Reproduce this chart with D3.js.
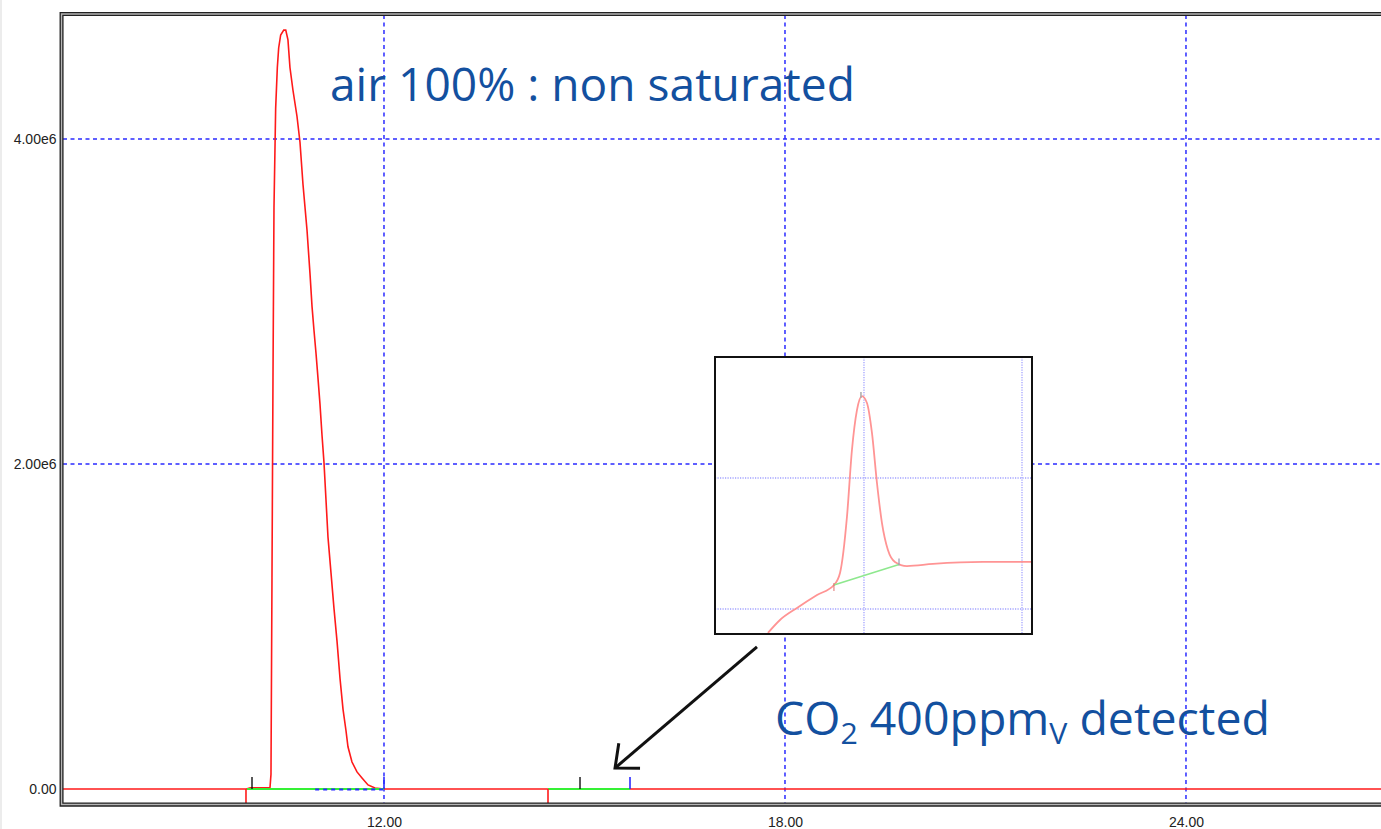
<!DOCTYPE html>
<html>
<head>
<meta charset="utf-8">
<script src="https://cdn.jsdelivr.net/npm/d3@7"></script>
<style>
  html, body { margin: 0; padding: 0; background: #fff; }
  svg { display: block; }
</style>
</head>
<body>
<div id="zone"></div>
<script>
"use strict";

// ----- données lues sur le chromatogramme -----
// trace principale : temps (min) et signal (coups)
var traceTemps = [7.197, 9.94, 10.0, 10.294, 10.309, 10.324, 10.339, 10.354, 10.379, 10.404, 10.424, 10.454,
  10.50, 10.53, 10.563, 10.593, 10.638, 10.698, 10.743, 10.788, 10.848, 10.893, 10.923, 10.953, 10.983,
  11.012, 11.042, 11.072, 11.102, 11.132, 11.162, 11.207, 11.252, 11.297, 11.342, 11.387, 11.431, 11.461,
  11.521, 11.596, 11.671, 11.761, 11.865, 12.0, 26.92];
var traceSignal = [0, 0, 0.008e6, 0.008e6, 0.09e6, 1.30e6, 2.53e6, 3.58e6, 4.19e6, 4.44e6, 4.56e6, 4.64e6,
  4.67e6, 4.67e6, 4.61e6, 4.44e6, 4.30e6, 4.14e6, 3.98e6, 3.72e6, 3.44e6, 3.17e6, 2.97e6, 2.82e6, 2.68e6,
  2.53e6, 2.37e6, 2.18e6, 2.01e6, 1.78e6, 1.55e6, 1.33e6, 1.11e6, 0.91e6, 0.68e6, 0.49e6, 0.36e6, 0.26e6,
  0.166e6, 0.105e6, 0.068e6, 0.025e6, 0.006e6, 0, 0];

// graduations
var xTicks = [12, 18, 24];
var xTickLabels = ["12.00", "18.00", "24.00"];
var yTicks = [0, 2e6, 4e6];
var yTickLabels = ["0.00", "2.00e6", "4.00e6"];

// intégration : début (trait rouge), ligne de base (vert), marqueurs
var debutsIntegration = [9.935, 14.454];
var ligneBaseDebut = [9.95, 14.454];
var ligneBaseFin = [12.0, 15.681];
var marquesNoires = [10.025, 14.933];
var marquesBleues = [12.0, 15.681];
var segmentPointille = [10.97, 12.0];

// encart : zoom sur le pic de CO2
var encartTemps = [14.206, 14.343, 14.537, 14.765, 14.958, 15.027, 15.106, 15.163, 15.220, 15.277, 15.334,
  15.391, 15.448, 15.505, 15.573, 15.653, 15.790, 16.086, 16.656, 17.214];
var encartSignal = [817, 916, 1008, 1107, 1183, 1275, 1702, 2214, 2519, 2626, 2573,
  2344, 1962, 1656, 1450, 1359, 1328, 1344, 1359, 1359];
var encartXTicks = [15.3, 17.1];
var encartYTicks = [1000, 2000];
var encartBaseTemps = [14.958, 15.699];
var encartBaseSignal = [1183, 1340];

// flèche : de (temps, signal) vers (temps, signal)
var flecheDepart = [17.581, 0.874e6];
var flecheArrivee = [15.457, 0.129e6];

(function() {

  var largeur = 1381;
  var hauteur = 829;
  var gauche = 63, haut = 15, droite = 1381, bas = 803;
  var bleuGrille = "#2b2bff";
  var couleurTexte = "#13509f";

  var svg = d3.select("#zone").append("svg")
    .attr("width", largeur)
    .attr("height", hauteur);

  var x = d3.scaleLinear().domain([7.197, 26.918]).range([gauche, droite]);
  var y = d3.scaleLinear().domain([-0.0862e6, 4.763e6]).range([bas, haut]);

  svg.append("defs").append("clipPath").attr("id", "clipCadre")
    .append("rect")
    .attr("x", gauche).attr("y", haut)
    .attr("width", droite - gauche).attr("height", bas - haut);

  // petit trait gris au bord gauche de la capture
  svg.append("line")
    .attr("x1", 1).attr("x2", 1).attr("y1", 0).attr("y2", hauteur)
    .attr("stroke", "#ececec").attr("stroke-width", 2);

  var zonePlot = svg.append("g").attr("clip-path", "url(#clipCadre)");

  // grille pointillée bleue
  zonePlot.selectAll(".grilleX").data(xTicks).enter().append("line")
    .attr("class", "grilleX")
    .attr("x1", function(d) { return x(d); }).attr("x2", function(d) { return x(d); })
    .attr("y1", haut).attr("y2", bas)
    .attr("stroke", bleuGrille).attr("stroke-width", 1.5)
    .attr("stroke-dasharray", "4,3.5");

  zonePlot.selectAll(".grilleY").data(yTicks.filter(function(d) { return d > 0; })).enter().append("line")
    .attr("class", "grilleY")
    .attr("x1", gauche).attr("x2", droite)
    .attr("y1", function(d) { return y(d); }).attr("y2", function(d) { return y(d); })
    .attr("stroke", bleuGrille).attr("stroke-width", 1.5)
    .attr("stroke-dasharray", "4,3.5");

  // trace
  var points = traceTemps.map(function(t, i) { return [t, traceSignal[i]]; });
  var ligne = d3.line()
    .x(function(d) { return x(d[0]); })
    .y(function(d) { return y(d[1]); });

  zonePlot.append("path")
    .datum(points)
    .attr("d", ligne)
    .attr("fill", "none")
    .attr("stroke", "#ff1a1a")
    .attr("stroke-width", 1.6);

  // lignes de base d'intégration
  zonePlot.selectAll(".base").data(ligneBaseDebut).enter().append("line")
    .attr("x1", function(d) { return x(d); })
    .attr("x2", function(d, i) { return x(ligneBaseFin[i]); })
    .attr("y1", y(0)).attr("y2", y(0))
    .attr("stroke", "#35f035").attr("stroke-width", 2);

  zonePlot.append("line")
    .attr("x1", x(segmentPointille[0])).attr("x2", x(segmentPointille[1]))
    .attr("y1", y(0) + 0.5).attr("y2", y(0) + 0.5)
    .attr("stroke", bleuGrille).attr("stroke-width", 2)
    .attr("stroke-dasharray", "4,4");

  zonePlot.selectAll(".debut").data(debutsIntegration).enter().append("line")
    .attr("x1", function(d) { return x(d); }).attr("x2", function(d) { return x(d); })
    .attr("y1", y(0)).attr("y2", bas)
    .attr("stroke", "#ff1a1a").attr("stroke-width", 1.6);

  zonePlot.selectAll(".marqueNoire").data(marquesNoires).enter().append("line")
    .attr("x1", function(d) { return x(d); }).attr("x2", function(d) { return x(d); })
    .attr("y1", y(0)).attr("y2", y(0) - 12)
    .attr("stroke", "#111").attr("stroke-width", 1.4);

  zonePlot.selectAll(".marqueBleue").data(marquesBleues).enter().append("line")
    .attr("x1", function(d) { return x(d); }).attr("x2", function(d) { return x(d); })
    .attr("y1", y(0)).attr("y2", y(0) - 12)
    .attr("stroke", bleuGrille).attr("stroke-width", 1.6);

  // axes (étiquettes seules, comme le logiciel)
  var axeY = d3.axisLeft(y).tickValues(yTicks)
    .tickFormat(function(d, i) { return yTickLabels[i]; })
    .tickSize(0).tickPadding(6);
  svg.append("g").attr("transform", "translate(" + (gauche - 0.5) + ",0)").call(axeY)
    .call(function(g) { g.select(".domain").remove(); })
    .selectAll("text")
    .attr("font-family", "Liberation Sans, Arial, sans-serif")
    .attr("font-size", 14).attr("fill", "#222");

  var axeX = d3.axisBottom(x).tickValues(xTicks)
    .tickFormat(function(d, i) { return xTickLabels[i]; })
    .tickSize(0).tickPadding(14);
  svg.append("g").attr("transform", "translate(0," + bas + ")").call(axeX)
    .call(function(g) { g.select(".domain").remove(); })
    .selectAll("text")
    .attr("font-family", "Liberation Sans, Arial, sans-serif")
    .attr("font-size", 14).attr("fill", "#222");

  // ----- encart -----
  var eg = 715, ed = 1032, eh = 357, eb = 634;
  var ex = d3.scaleLinear().domain([13.603, 17.214]).range([eg, ed]);
  var ey = d3.scaleLinear().domain([809, 2924]).range([eb, eh]);

  svg.append("clipPath").attr("id", "clipEncart")
    .append("rect").attr("x", eg).attr("y", eh).attr("width", ed - eg).attr("height", eb - eh);

  var encart = svg.append("g");
  encart.append("rect")
    .attr("x", eg).attr("y", eh).attr("width", ed - eg).attr("height", eb - eh)
    .attr("fill", "#fff");

  var encartContenu = encart.append("g").attr("clip-path", "url(#clipEncart)");

  encartContenu.selectAll(".egx").data(encartXTicks).enter().append("line")
    .attr("x1", function(d) { return ex(d); }).attr("x2", function(d) { return ex(d); })
    .attr("y1", eh).attr("y2", eb)
    .attr("stroke", "#a3a3ff").attr("stroke-width", 1.3).attr("stroke-dasharray", "1.2,1.3");
  encartContenu.selectAll(".egy").data(encartYTicks).enter().append("line")
    .attr("x1", eg).attr("x2", ed)
    .attr("y1", function(d) { return ey(d); }).attr("y2", function(d) { return ey(d); })
    .attr("stroke", "#a3a3ff").attr("stroke-width", 1.3).attr("stroke-dasharray", "1.2,1.3");

  var pointsEncart = encartTemps.map(function(t, i) { return [t, encartSignal[i]]; });
  encartContenu.append("path")
    .datum(pointsEncart)
    .attr("d", d3.line().curve(d3.curveMonotoneX)
      .x(function(d) { return ex(d[0]); })
      .y(function(d) { return ey(d[1]); }))
    .attr("fill", "none").attr("stroke", "#ff9494").attr("stroke-width", 1.8);

  encartContenu.append("line")
    .attr("x1", ex(encartBaseTemps[0])).attr("y1", ey(encartBaseSignal[0]))
    .attr("x2", ex(encartBaseTemps[1])).attr("y2", ey(encartBaseSignal[1]))
    .attr("stroke", "#8ee88e").attr("stroke-width", 1.6);

  encartContenu.append("line")
    .attr("x1", ex(encartBaseTemps[0])).attr("x2", ex(encartBaseTemps[0]))
    .attr("y1", ey(encartBaseSignal[0]) - 2).attr("y2", ey(encartBaseSignal[0]) + 6)
    .attr("stroke", "#e07070").attr("stroke-width", 1);
  encartContenu.append("line")
    .attr("x1", ex(encartBaseTemps[1])).attr("x2", ex(encartBaseTemps[1]))
    .attr("y1", ey(encartBaseSignal[1]) - 6).attr("y2", ey(encartBaseSignal[1]) + 1)
    .attr("stroke", "#9a9ab0").attr("stroke-width", 1.2);
  encartContenu.append("line")
    .attr("x1", ex(15.277) - 1).attr("x2", ex(15.277) - 1)
    .attr("y1", ey(2626) - 4).attr("y2", ey(2626) + 2)
    .attr("stroke", "#aaa").attr("stroke-width", 1.5);

  encart.append("rect")
    .attr("x", eg).attr("y", eh).attr("width", ed - eg).attr("height", eb - eh)
    .attr("fill", "none").attr("stroke", "#111").attr("stroke-width", 2);

  // ----- flèche -----
  var xa = x(flecheArrivee[0]), ya = y(flecheArrivee[1]);
  var xd = x(flecheDepart[0]), yd = y(flecheDepart[1]);
  var angle = Math.atan2(yd - ya, xd - xa);
  var longueurPointe = 25;
  var p1 = [xa + longueurPointe * Math.cos(angle - Math.PI / 4.4), ya + longueurPointe * Math.sin(angle - Math.PI / 4.4)];
  var p2 = [xa + longueurPointe * Math.cos(angle + Math.PI / 4.4), ya + longueurPointe * Math.sin(angle + Math.PI / 4.4)];
  svg.append("path")
    .attr("d", "M" + xd + "," + yd + "L" + xa + "," + ya)
    .attr("stroke", "#111").attr("stroke-width", 3).attr("fill", "none");
  svg.append("path")
    .attr("d", "M" + p1[0] + "," + p1[1] + "L" + xa + "," + ya + "L" + p2[0] + "," + p2[1])
    .attr("stroke", "#111").attr("stroke-width", 3).attr("fill", "none")
    .attr("stroke-linejoin", "miter");

  // ----- textes -----
  function ajusteLargeur(sel, gaucheTexte, largeurCible) {
    var w = sel.node().getBBox().width;
    var k = largeurCible / w;
    sel.attr("transform", "translate(" + gaucheTexte + ",0) scale(" + k + ",1)");
  }

  var texteAir = svg.append("text")
    .attr("x", 0).attr("y", 101)
    .attr("font-family", "Open Sans, Noto Sans, sans-serif")
    .attr("font-size", 46)
    .attr("fill", couleurTexte)
    .text("air 100% : non saturated");
  ajusteLargeur(texteAir, 330, 525);

  var texteCO2 = svg.append("text")
    .attr("x", 0).attr("y", 735)
    .attr("font-family", "Open Sans, Noto Sans, sans-serif")
    .attr("font-size", 46)
    .attr("fill", couleurTexte);
  texteCO2.append("tspan").text("CO");
  texteCO2.append("tspan").attr("font-size", 30).attr("dy", 9).text("2");
  texteCO2.append("tspan").attr("dy", -9).text(" 400ppm");
  texteCO2.append("tspan").attr("font-size", 30).attr("dy", 9).text("V");
  texteCO2.append("tspan").attr("dy", -9).text(" detected");
  ajusteLargeur(texteCO2, 775, 495);

  // ----- cadre double -----
  svg.append("path")
    .attr("d", "M" + droite + ",14 H61.6 V804.6 H" + droite)
    .attr("fill", "none").attr("stroke", "#b5b5b5").attr("stroke-width", 3);
  svg.append("path")
    .attr("d", "M" + droite + ",12.6 H60.2 V806 H" + droite)
    .attr("fill", "none").attr("stroke", "#222").attr("stroke-width", 1.3);
  svg.append("path")
    .attr("d", "M" + droite + ",15.4 H62.9 V803.2 H" + droite)
    .attr("fill", "none").attr("stroke", "#222").attr("stroke-width", 1.3);

})();
</script>
</body>
</html>
